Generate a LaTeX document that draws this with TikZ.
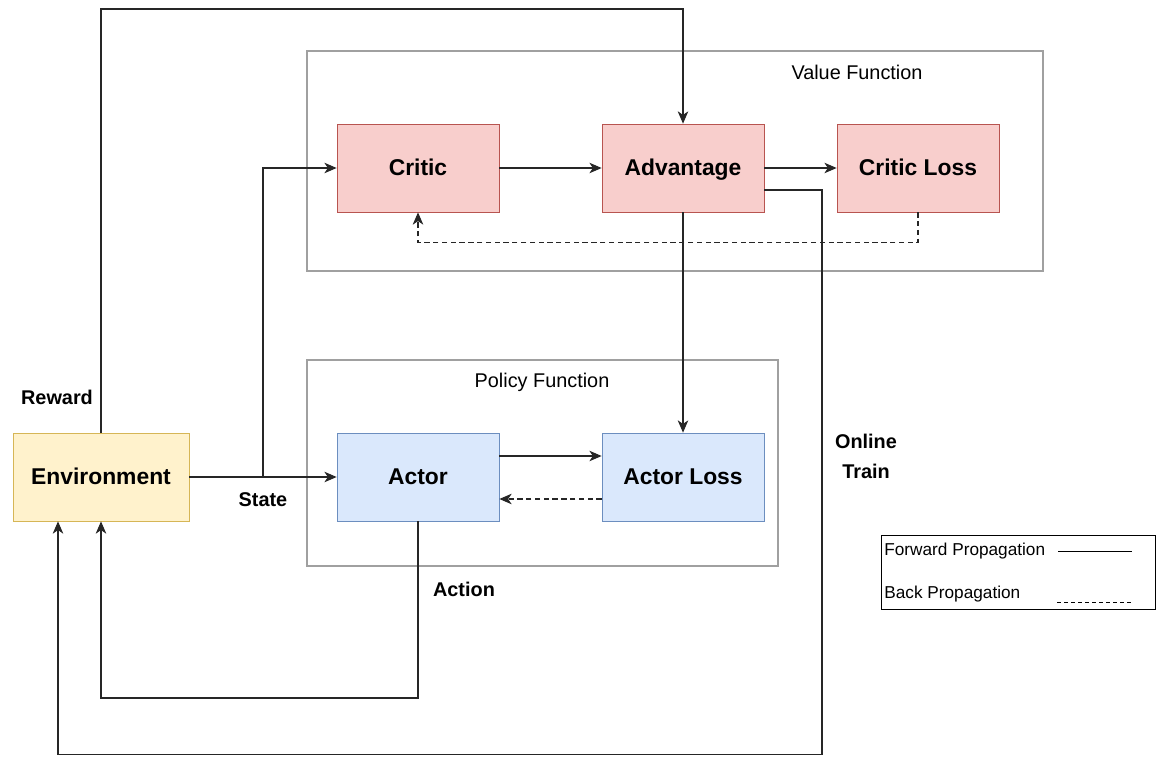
\documentclass[tikz,border=0pt]{standalone}
\usepackage{fontspec}
\setmainfont{Liberation Sans}
\usetikzlibrary{arrows.meta}

\definecolor{envfill}{HTML}{FFF2CC}
\definecolor{envline}{HTML}{D6B656}
\definecolor{redfill}{HTML}{F8CECC}
\definecolor{redline}{HTML}{B85450}
\definecolor{bluefill}{HTML}{DAE8FC}
\definecolor{blueline}{HTML}{6C8EBF}
\definecolor{groupline}{HTML}{A0A0A0}

\begin{document}
\begin{tikzpicture}[
    block/.style={draw, minimum width=3.24cm, minimum height=1.76cm, text height=0.86em, text depth=0pt, font=\fontsize{13}{15}\selectfont\bfseries},
    env/.style={block, fill=envfill, draw=envline, minimum width=3.52cm},
    critblock/.style={block, fill=redfill, draw=redline},
    actblock/.style={block, fill=bluefill, draw=blueline},
    group/.style={draw=groupline, thick},
    lbl/.style={font=\fontsize{11.3}{17}\selectfont\bfseries, align=center},
    fwd/.style={line width=0.6pt, black!85, -{Stealth[length=7pt,width=6pt,inset=2pt]}},
    bwd/.style={fwd, dashed, dash pattern=on 3pt off 2pt}
]

    \useasboundingbox (0,0) rectangle (23.12,15.14);

    % value and policy groups
    \draw[group] (6.14,9.72) rectangle (20.86,14.12);
    \node[font=\fontsize{11.3}{13}\selectfont] (valtitle) at (17.14,13.7) {Value Function};
    \draw[group] (6.14,3.82) rectangle (15.56,7.94);
    \node[font=\fontsize{11.3}{13}\selectfont] (poltitle) at (10.84,7.5) {Policy Function};

    \node[env] (env) at (2.02,5.6) {Environment};
    \node[critblock] (critic) at (8.36,11.78) {Critic};
    \node[critblock] (adv) at (13.66,11.78) {Advantage};
    \node[critblock] (closs) at (18.36,11.78) {Critic Loss};
    \node[actblock] (actor) at (8.36,5.6) {Actor};
    \node[actblock] (aloss) at (13.66,5.6) {Actor Loss};

    \coordinate (top) at (0,14.96);
    \coordinate (split) at (5.26,5.6);
    \coordinate (low) at (0,1.18);
    \coordinate (bottom) at (16.44,0.05);

    % forward pass
    \draw[fwd] (env.north) |- (adv.north |- top) -- (adv.north);
    \draw[fwd] (env) -- (actor);
    \draw[fwd] (split) |- (critic);
    \draw[fwd] (critic) -- (adv);
    \draw[fwd] (adv) -- (closs);
    \draw[fwd] (adv) -- (aloss);
    \draw[fwd] ([yshift=0.42cm]actor.east) -- ([yshift=0.42cm]aloss.west);
    \draw[fwd] (actor.south) |- (env.south |- low) -- (env.south);
    \draw[fwd] ([yshift=-0.44cm]adv.east) -| (bottom) -| ([xshift=-0.86cm]env.south);

    % backward pass
    \draw[bwd] (closs.south) -- ++(0,-0.6) -| (critic.south);
    \draw[bwd] ([yshift=-0.44cm]aloss.west) -- ([yshift=-0.44cm]actor.east);

    \node[lbl] (reward) at (1.14,7.2) {Reward};
    \node[lbl] (state) at (5.26,5.14) {State};
    \node[lbl] (action) at (9.28,3.36) {Action};
    \node[lbl] (online) at (17.32,6.02) {Online\\Train};

    % legend
    \draw[thin] (17.62,2.96) rectangle (23.1,4.44);
    \node[anchor=west, inner sep=0pt, font=\fontsize{9.8}{11}\selectfont] (fwdtext) at (17.68,4.12) {Forward Propagation};
    \node[anchor=west, inner sep=0pt, font=\fontsize{9.8}{11}\selectfont] (bwdtext) at (17.68,3.26) {Back Propagation};
    \draw[thin] (21.16,4.12) -- (22.64,4.12);
    \draw[thin, dashed, dash pattern=on 2pt off 2pt] (21.14,3.1) -- (22.64,3.1);

\end{tikzpicture}
\end{document}
